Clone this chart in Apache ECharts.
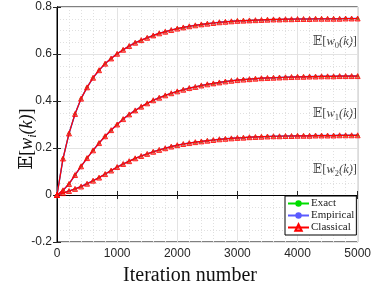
<!DOCTYPE html>
<html>
<head>
<meta charset="utf-8">
<style>
  html, body { margin: 0; padding: 0; background: #fff; }
  #chart { width: 374px; height: 291px; }
</style>
<script src="https://cdn.jsdelivr.net/npm/echarts@6/dist/echarts.min.js"></script>
</head>
<body>
<div id="chart"></div>
<script>
// iteration number, one point every 100 iterations
const iterations = [
  0, 100, 200, 300, 400, 500, 600, 700, 800, 900,
  1000, 1100, 1200, 1300, 1400, 1500, 1600, 1700, 1800, 1900,
  2000, 2100, 2200, 2300, 2400, 2500, 2600, 2700, 2800, 2900,
  3000, 3100, 3200, 3300, 3400, 3500, 3600, 3700, 3800, 3900,
  4000, 4100, 4200, 4300, 4400, 4500, 4600, 4700, 4800, 4900, 5000
]

// E[w0(k)]
const w0Values = [
  0, 0.155, 0.262, 0.345, 0.41, 0.458, 0.499, 0.531, 0.559, 0.581,
  0.601, 0.618, 0.634, 0.648, 0.659, 0.669, 0.679, 0.688, 0.695, 0.702,
  0.708, 0.713, 0.718, 0.722, 0.726, 0.729, 0.732, 0.735, 0.737, 0.739,
  0.741, 0.742, 0.743, 0.744, 0.745, 0.746, 0.747, 0.747, 0.748, 0.748,
  0.749, 0.749, 0.749, 0.75, 0.75, 0.75, 0.75, 0.75, 0.751, 0.751, 0.751
]

// E[w1(k)]
const w1Values = [
  0, 0.02, 0.047, 0.085, 0.122, 0.157, 0.19, 0.221, 0.25, 0.276,
  0.3, 0.323, 0.343, 0.36, 0.376, 0.39, 0.403, 0.414, 0.424, 0.433,
  0.441, 0.448, 0.455, 0.46, 0.466, 0.471, 0.475, 0.479, 0.483, 0.486,
  0.489, 0.491, 0.493, 0.495, 0.497, 0.498, 0.499, 0.5, 0.501, 0.502,
  0.503, 0.503, 0.504, 0.504, 0.505, 0.505, 0.505, 0.506, 0.506, 0.506, 0.506
]

// E[w2(k)]
const w2Values = [
  0, 0.008, 0.017, 0.026, 0.036, 0.048, 0.061, 0.074, 0.089, 0.104,
  0.119, 0.132, 0.144, 0.156, 0.166, 0.175, 0.184, 0.192, 0.199, 0.206,
  0.212, 0.217, 0.221, 0.225, 0.228, 0.231, 0.234, 0.237, 0.239, 0.241,
  0.243, 0.244, 0.246, 0.247, 0.248, 0.249, 0.25, 0.25, 0.251, 0.251,
  0.252, 0.252, 0.252, 0.253, 0.253, 0.253, 0.253, 0.254, 0.254, 0.254, 0.254
]

const methodNames = ['Exact', 'Empirical', 'Classical']
const curveSubscripts = ['0', '1', '2']

const chart = echarts.init(document.getElementById('chart'))

const toPairs = (vals) => iterations.map((k, i) => [k, vals[i]])

const makeSeries = (vals) => {
  const data = toPairs(vals)
  return [
    {
      name: 'Exact',
      type: 'line',
      data: data,
      symbol: 'circle',
      symbolSize: 3,
      lineStyle: { color: '#00dd00', width: 1 },
      itemStyle: { color: '#00dd00' },
      z: 2
    },
    {
      name: 'Empirical',
      type: 'line',
      data: data,
      showSymbol: false,
      symbol: 'none',
      lineStyle: { color: '#5a5aff', width: 1.5 },
      itemStyle: { color: '#5a5aff' },
      z: 3
    },
    {
      name: 'Classical',
      type: 'line',
      data: data,
      symbol: 'triangle',
      symbolSize: 5,
      lineStyle: { color: '#ff0000', width: 1.2 },
      itemStyle: { color: 'rgba(255,30,30,0.55)', borderColor: '#ff0000', borderWidth: 0.8 },
      z: 4
    }
  ]
}

const serif = '"Liberation Serif", "DejaVu Serif", serif'
const axisColor = '#262626'

// rich text styles for E[w_i(k)] with a lowered subscript
const mathRich = (size, color) => ({
  n: { fontFamily: serif, fontSize: size, fill: color, lineHeight: size * 1.3 },
  i: { fontFamily: serif, fontSize: size, fontStyle: 'italic', fill: color, lineHeight: size * 1.3 },
  s: { fontFamily: serif, fontSize: size * 0.68, fill: color, verticalAlign: 'bottom', lineHeight: size * 1.3 }
})
const mathRichItalicSub = (size, color) => {
  const r = mathRich(size, color)
  r.s.fontStyle = 'italic'
  return r
}

const option = {
  animation: false,
  grid: {
    left: 57,
    right: 13,
    top: 7,
    bottom: 49,
    show: true,
    borderColor: '#000',
    borderWidth: 1
  },
  legend: {
    data: methodNames,
    orient: 'vertical',
    left: 285,
    top: 196,
    padding: [2, 2, 2, 2],
    itemGap: 1,
    itemWidth: 21,
    itemHeight: 8,
    backgroundColor: '#fff',
    borderColor: '#000',
    borderWidth: 1,
    borderRadius: 0,
    textStyle: { fontFamily: serif, fontSize: 11, color: '#222', padding: [0, 0, 0, -3] }
  },
  xAxis: [
    {
      type: 'value',
      min: 0,
      max: 5000,
      interval: 1000,
      axisLine: { show: true, lineStyle: { color: '#000' } },
      axisTick: { show: true, inside: true, length: 4, lineStyle: { color: axisColor } },
      axisLabel: {
        color: axisColor,
        fontSize: 12,
        fontFamily: '"Liberation Sans", Arial, sans-serif',
        margin: 6,
        formatter: (v) => String(v)
      },
      splitLine: { show: true, lineStyle: { color: '#e3e3e3', width: 1 } },
      minorTick: { show: false, splitNumber: 5 },
      minorSplitLine: { show: true, lineStyle: { color: '#e0e0e0', type: [1, 2], width: 1 } }
    },
    {
      type: 'value',
      position: 'top',
      min: 0,
      max: 5000,
      interval: 1000,
      axisLine: { show: true, lineStyle: { color: '#000' } },
      axisTick: { show: true, inside: true, length: 4, lineStyle: { color: axisColor } },
      axisLabel: { show: false },
      splitLine: { show: false }
    }
  ],
  yAxis: [
    {
      type: 'value',
      min: -0.2,
      max: 0.8,
      interval: 0.2,
      axisLine: { show: true, lineStyle: { color: '#000' } },
      axisTick: { show: true, inside: true, length: 4, lineStyle: { color: axisColor } },
      axisLabel: {
        color: axisColor,
        fontSize: 12,
        fontFamily: '"Liberation Sans", Arial, sans-serif',
        margin: 5,
        formatter: (v) => String(Math.round(v * 10) / 10)
      },
      splitLine: { show: true, lineStyle: { color: '#e3e3e3', width: 1 } },
      minorTick: { show: false, splitNumber: 4 },
      minorSplitLine: { show: true, lineStyle: { color: '#e0e0e0', type: [1, 2], width: 1 } }
    },
    {
      type: 'value',
      position: 'right',
      min: -0.2,
      max: 0.8,
      interval: 0.2,
      axisLine: { show: true, lineStyle: { color: '#000' } },
      axisTick: { show: true, inside: true, length: 4, lineStyle: { color: axisColor } },
      axisLabel: { show: false },
      splitLine: { show: false }
    }
  ],
  series: [
    ...makeSeries(w2Values),
    ...makeSeries(w1Values),
    ...makeSeries(w0Values)
  ],
  graphic: [
    {
      type: 'text',
      x: 190,
      y: 276,
      style: {
        text: 'Iteration number',
        font: '20px ' + serif,
        fill: '#111',
        align: 'center',
        verticalAlign: 'middle'
      }
    },
    {
      type: 'text',
      x: 27,
      y: 139,
      rotation: Math.PI / 2,
      style: {
        text: '{n|𝔼[}{i|w}{s|i}{i|(k)}{n|]}',
        align: 'center',
        verticalAlign: 'middle',
        fill: '#111',
        rich: mathRichItalicSub(18, '#111')
      }
    },
    ...[42, 114, 170].map((y, idx) => ({
      type: 'text',
      x: 357,
      y: y,
      style: {
        text: '{n|𝔼[}{i|w}{s|' + curveSubscripts[idx] + '}{i|(k)}{n|]}',
        align: 'right',
        verticalAlign: 'middle',
        fill: '#444',
        rich: mathRich(12.5, '#444')
      }
    }))
  ]
}

chart.setOption(option)
</script>
</body>
</html>
